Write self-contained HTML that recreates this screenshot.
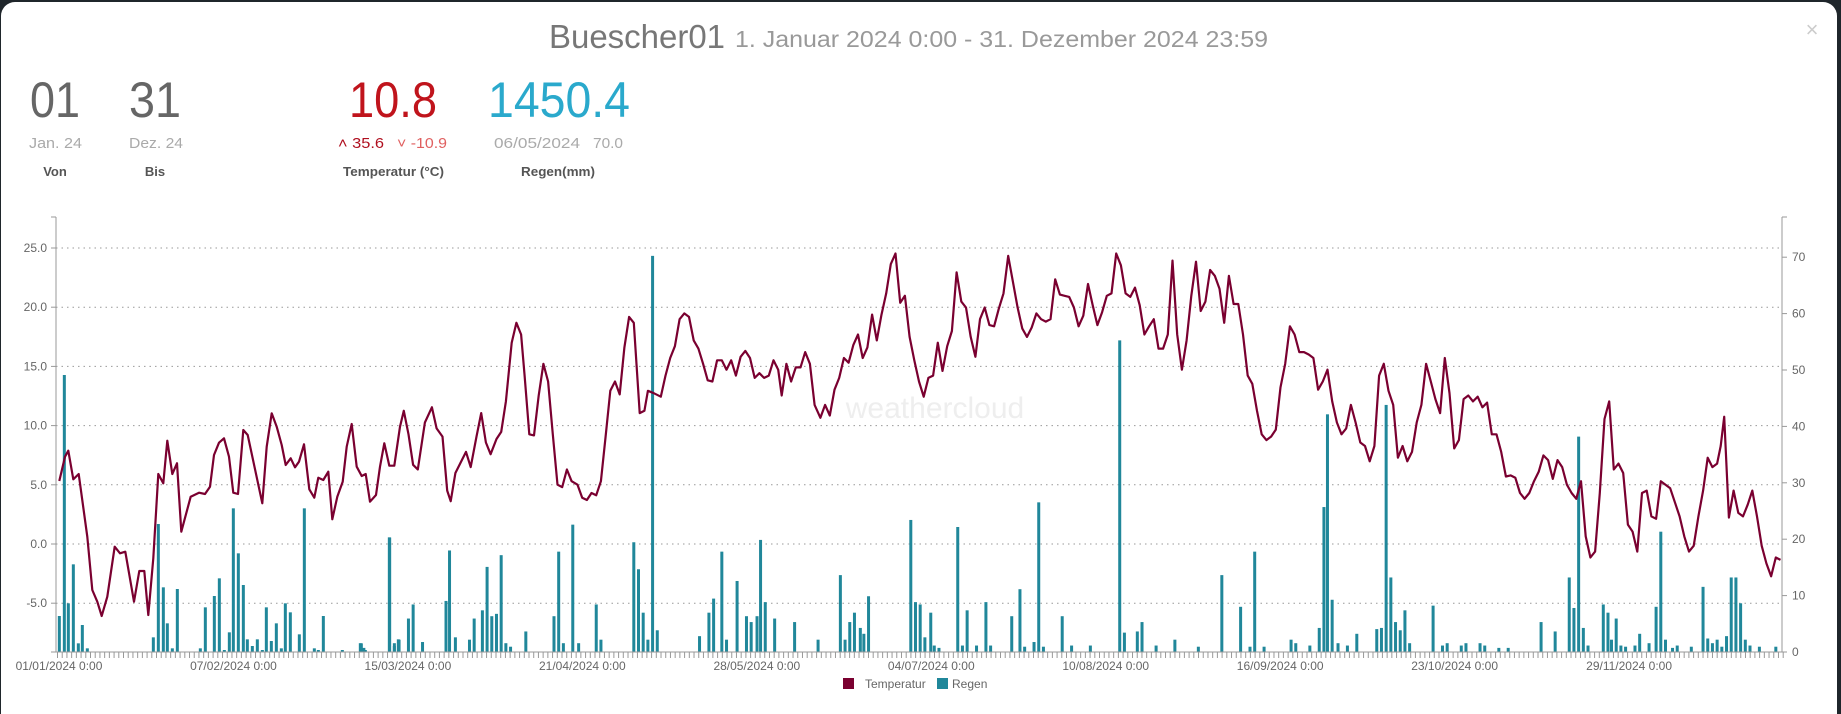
<!DOCTYPE html>
<html><head><meta charset="utf-8"><style>
html,body{margin:0;padding:0;background:#1d2328;}
svg{display:block;}
text{font-family:"Liberation Sans",sans-serif;}
</style></head><body>
<svg id="s" width="1841" height="714" xmlns="http://www.w3.org/2000/svg">
<rect x="0" y="0" width="1841" height="714" fill="#1f262b"/>
<rect x="1" y="2" width="1836" height="740" rx="14" fill="#fff"/>
<text x="549" y="48" font-size="33" fill="#777" textLength="176" lengthAdjust="spacingAndGlyphs">Buescher01</text>
<text x="735" y="47" font-size="23" fill="#999" textLength="533" lengthAdjust="spacingAndGlyphs">1. Januar 2024 0:00 - 31. Dezember 2024 23:59</text>
<text x="1812" y="37" font-size="22" fill="#ccc" text-anchor="middle">×</text>
<g font-size="50">
<text x="30" y="117" fill="#666" textLength="50" lengthAdjust="spacingAndGlyphs">01</text>
<text x="129" y="117" fill="#666" textLength="52" lengthAdjust="spacingAndGlyphs">31</text>
<text x="349" y="117" fill="#c0141c" textLength="88" lengthAdjust="spacingAndGlyphs">10.8</text>
<text x="488" y="117" fill="#2aa9cc" textLength="142" lengthAdjust="spacingAndGlyphs">1450.4</text>
</g>
<g font-size="15">
<text x="29" y="148" fill="#aaa" textLength="53" lengthAdjust="spacingAndGlyphs">Jan. 24</text>
<text x="129" y="148" fill="#aaa" textLength="54" lengthAdjust="spacingAndGlyphs">Dez. 24</text>
<text x="338" y="148" fill="#b01020" textLength="46" lengthAdjust="spacingAndGlyphs">˄ 35.6</text>
<text x="397" y="148" fill="#e06060" textLength="50" lengthAdjust="spacingAndGlyphs">˅ -10.9</text>
<text x="494" y="148" fill="#aaa" textLength="86" lengthAdjust="spacingAndGlyphs">06/05/2024</text>
<text x="593" y="148" fill="#aaa" textLength="30" lengthAdjust="spacingAndGlyphs">70.0</text>
</g>
<g font-size="13" font-weight="bold" fill="#555">
<text x="55" y="176" text-anchor="middle">Von</text>
<text x="155" y="176" text-anchor="middle">Bis</text>
<text x="343" y="176" textLength="101" lengthAdjust="spacingAndGlyphs">Temperatur (°C)</text>
<text x="521" y="176" textLength="74" lengthAdjust="spacingAndGlyphs">Regen(mm)</text>
</g>
<text x="935" y="418" font-size="30" fill="#eee" text-anchor="middle">weathercloud</text>
<g id="grid" stroke="#999" stroke-width="1" stroke-dasharray="1.5,4"></g>
<g id="bars" fill="#20879a"></g>
<path id="temp" fill="none" stroke="#7a0030" stroke-width="2.2" stroke-linejoin="round"/>
<g id="axes" stroke="#999" fill="none"></g>
<g id="labels" font-size="12" fill="#666"></g>
<rect x="843" y="678" width="11" height="11" fill="#7a0030"/>
<text x="865" y="688" font-size="12" fill="#666">Temperatur</text>
<rect x="937" y="678" width="11" height="11" fill="#20879a"/>
<text x="952" y="688" font-size="12" fill="#666">Regen</text>
</svg>
<script>
var NS="http://www.w3.org/2000/svg";
function el(p,t,a,txt){var e=document.createElementNS(NS,t);for(var k in a)e.setAttribute(k,a[k]);if(txt!=null)e.textContent=txt;document.getElementById(p).appendChild(e);return e;}
var L=56,R=1782,B=652,T=217;
// grid + left labels
[25,20,15,10,5,0,-5].forEach(function(v){var y=544-v*11.84;
 el("grid","line",{x1:L,x2:R,y1:y,y2:y});
 el("axes","line",{x1:L-5,x2:L,y1:y,y2:y});
 el("labels","text",{x:47,y:y+4,"text-anchor":"end"},v.toFixed(1));});
for(var v=0;v<=70;v+=10){var y=B-v*5.64;
 el("axes","line",{x1:R,x2:R+5,y1:y,y2:y});
 el("labels","text",{x:1792,y:y+4},String(v));}
el("axes","line",{x1:L,x2:L,y1:T,y2:B});
el("axes","line",{x1:R,x2:R,y1:T,y2:B});
el("axes","line",{x1:L-5,x2:L,y1:T,y2:T});
el("axes","line",{x1:R,x2:R+5,y1:T,y2:T});
el("axes","line",{x1:L-5,x2:R+5,y1:B,y2:B});
for(var d=0;d<=366;d++){var x=57.5+d*4.715;el("axes","line",{x1:x,x2:x,y1:B,y2:B+6});}
["01/01/2024 0:00","07/02/2024 0:00","15/03/2024 0:00","21/04/2024 0:00","28/05/2024 0:00","04/07/2024 0:00","10/08/2024 0:00","16/09/2024 0:00","23/10/2024 0:00","29/11/2024 0:00"].forEach(function(s,i){
 el("labels","text",{x:59+i*37*4.715,y:670,"text-anchor":"middle"},s);});
// bars
var z2=[[178,1248],[193,525],[205,1210],[220,1093],[235,1330],[247,1275],[262,1345],[460,1312],[475,972],[490,1162],[502,1270],[517,1345],[532,1167],[601,1345],[616,1222],[643,1188],[658,1135],[673,1350],[688,1297],[700,925],[715,1060],[730,1155],[742,1318],[757,1338],[772,1318],[787,1350],[799,1222],[814,1323],[829,1270],[844,1345],[856,1210],[871,1237],[898,1303],[913,925],[943,1345],[955,1350],[970,1248],[1027,1350],[1084,1330],[1096,1350],[1168,1012],[1183,1338],[1195,1318]];
z2.forEach(function(p){var x=p[0]/3,t=200+p[1]/3;el("bars","rect",{x:x-1.5,y:t,width:3,height:B-t});});
var db=[[307,548],[310,552],[332,458],[336,548],[340,545],[348,527],[352,515],[360,547],[380,512],[383,469],[388,543],[400,545],[404,527],[411,520],[415,483],[419,525],[423,523],[427,473],[431,548],[435,551],[448,538],[472,525],[476,470],[480,548],[488,447],[493,548],[508,515],[512,545],[540,462],[544,485],[548,522],[552,545],[556,218],[560,537],[596,542],[604,522],[608,510],[615,470],[619,545],[628,495],[636,525],[640,530],[645,525],[648,460],[652,513],[660,527],[677,530],[697,545],[716,490],[720,545],[724,530],[728,522],[733,535],[736,540],[740,508],[776,443],[780,513],[784,515],[788,543],[793,522],[796,550],[800,552],[816,449],[820,550],[824,520],[832,550],[840,513],[844,550],[862,525],[869,502],[873,551],[881,547],[885,428],[889,551],[905,525],[913,550],[929,550],[954,290],[958,539],[969,538],[973,530],[985,550],[1001,545],[1021,551],[1041,490],[1057,517],[1065,551],[1069,470],[1077,551],[1100,545],[1104,548],[1116,550],[1124,535],[1128,432],[1131,353],[1135,511],[1140,548],[1148,550],[1156,540],[1173,536],[1177,535],[1181,345],[1185,492],[1189,530],[1193,537],[1197,520],[1201,548],[1221,516],[1229,550],[1233,548],[1245,550],[1249,548],[1261,548],[1265,550],[1277,552],[1285,552],[1313,530],[1325,538],[1337,492],[1341,518],[1345,372],[1349,535],[1353,550],[1366,515],[1370,522],[1373,545],[1377,527],[1381,550],[1385,551],[1393,550],[1397,540],[1405,548],[1411,517],[1415,453],[1419,545],[1425,552],[1429,550],[1441,551],[1451,500],[1455,544],[1459,548],[1463,545],[1467,551],[1471,542],[1475,492],[1479,492],[1483,514],[1487,545],[1491,550],[1499,551],[1513,551]];
db.forEach(function(p){var x=p[0]/0.852,t=Math.min(p[1]/0.852,B-1.5);el("bars","rect",{x:x-1.5,y:t,width:3,height:B-t});});
// temperature
var zt=[[178,843],[195,770],[205,752],[220,838],[236,822],[262,1010],[277,1170],[292,1205],[305,1248],[322,1190],[344,1040],[360,1060],[376,1055],[402,1205],[418,1113],[433,1113],[445,1245],[460,1075],[475,822],[490,850],[502,722],[517,822],[531,790],[544,995],[572,890],[597,878],[615,882],[630,860],[642,765],[657,728],[672,715],[687,770],[700,878],[714,882],[730,690],[743,705],[787,910],[800,740],[815,640],[830,680],[845,735],[857,795],[872,775],[885,802],[897,785],[912,733],[928,868],[943,893],[955,833],[970,840],[985,815],[997,958],[1012,890],[1028,845],[1040,740],[1055,672],[1070,800],[1085,828],[1097,822],[1110,905],[1128,885],[1140,800],[1153,730],[1168,797],[1183,797],[1200,680]];
var dt=[[344,350],[348,370],[352,396],[356,400],[362,360],[368,347],[372,365],[377,372],[381,418],[384,427],[388,403],[392,395],[397,385],[401,398],[406,372],[410,352],[414,377],[418,387],[423,374],[427,368],[431,342],[436,292],[440,275],[444,285],[447,320],[451,370],[455,371],[459,337],[463,310],[467,325],[471,370],[475,413],[479,415],[483,400],[487,410],[492,413],[496,424],[500,426],[504,420],[508,422],[512,410],[516,372],[520,333],[524,325],[528,336],[532,296],[536,270],[540,275],[545,352],[549,350],[552,333],[557,335],[563,338],[567,320],[571,305],[575,295],[579,272],[583,267],[587,270],[591,290],[595,297],[599,310],[603,324],[607,325],[611,307],[615,307],[619,315],[623,307],[627,320],[631,304],[635,299],[639,305],[643,322],[647,318],[651,322],[655,320],[659,307],[663,315],[666,337],[670,310],[674,325],[678,313],[682,313],[686,300],[690,310],[694,345],[699,356],[703,345],[707,354],[711,332],[715,322],[719,305],[723,309],[727,294],[731,285],[735,305],[739,296],[743,268],[747,290],[751,268],[755,250],[759,225],[763,216],[767,258],[771,252],[775,287],[779,307],[783,325],[787,338],[791,322],[795,320],[799,292],[803,316],[807,295],[811,282],[815,232],[819,257],[823,262],[827,287],[831,304],[835,272],[839,262],[843,277],[847,278],[851,263],[855,250],[859,218],[863,240],[867,262],[871,280],[875,287],[879,279],[883,267],[887,272],[891,274],[895,272],[899,238],[903,251],[907,252],[911,253],[915,262],[919,278],[923,269],[927,242],[931,260],[935,277],[939,266],[943,252],[947,250],[951,216],[955,226],[959,250],[963,253],[967,245],[971,260],[975,285],[979,278],[983,272],[987,297],[991,297],[995,285],[999,222],[1003,285],[1007,315],[1011,290],[1015,252],[1019,223],[1023,265],[1027,257],[1031,230],[1035,235],[1039,246],[1043,275],[1047,235],[1051,259],[1055,259],[1059,285],[1063,320],[1067,327],[1071,350],[1075,370],[1079,375],[1083,372],[1087,366],[1091,330],[1095,310],[1099,278],[1103,285],[1107,300],[1111,300],[1115,302],[1119,305],[1123,332],[1127,325],[1131,315],[1135,342],[1139,360],[1143,370],[1147,365],[1151,345],[1155,360],[1159,377],[1163,380],[1167,393],[1171,380],[1175,320],[1179,310],[1183,333],[1187,345],[1191,390],[1195,380],[1199,393],[1203,385],[1207,360],[1211,345],[1215,310],[1219,325],[1223,340],[1227,352],[1231,305],[1235,335],[1239,382],[1243,375],[1247,340],[1251,337],[1255,342],[1259,338],[1263,347],[1267,343],[1271,370],[1275,370],[1279,385],[1283,406],[1287,405],[1291,407],[1295,420],[1299,425],[1303,420],[1307,410],[1311,402],[1315,388],[1319,392],[1323,408],[1327,392],[1331,398],[1335,413],[1339,420],[1343,425],[1347,410],[1351,457],[1355,475],[1359,470],[1363,420],[1367,357],[1371,342],[1375,400],[1379,395],[1383,403],[1387,447],[1391,453],[1395,470],[1399,420],[1403,418],[1407,440],[1411,442],[1415,410],[1419,413],[1423,416],[1427,428],[1431,440],[1435,457],[1439,470],[1443,465],[1447,440],[1451,418],[1455,390],[1459,398],[1463,395],[1466,380],[1469,355],[1473,441],[1477,418],[1481,437],[1485,440],[1489,430],[1493,418],[1497,440],[1501,465],[1505,480],[1509,491],[1513,475],[1517,477]];
var pts=zt.map(function(p){return [p[0]/3,200+p[1]/3];}).concat(dt.map(function(p){return [p[0]/0.852,p[1]/0.852];}));
document.getElementById("temp").setAttribute("d","M"+pts.map(function(p){return p[0].toFixed(1)+","+p[1].toFixed(1);}).join("L"));
</script>
</body></html>
